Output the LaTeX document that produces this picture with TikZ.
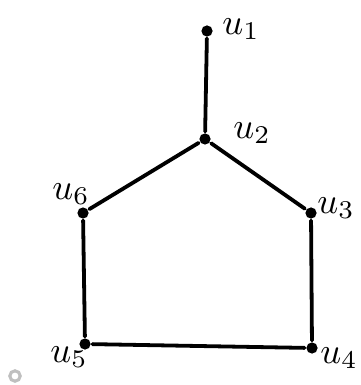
\documentclass[tikz,border=0pt]{standalone}
\usetikzlibrary{positioning}
\tikzset{
  every picture/.style={line width=2.7pt},
  vertex/.style={circle, fill=black, inner sep=0pt, minimum size=2.8mm},
  lbl/.style={scale=2.6, inner sep=0pt},
  edge/.style={draw=black, line cap=round},
}

\begin{document}
\begin{tikzpicture}[x=0.025cm, y=-0.025cm]
  \useasboundingbox (0,0) rectangle (360,385);
  % vertices
  \node[vertex] (u1) at (207,31) {};
  \node[vertex] (u2) at (205,139) {};
  \node[vertex] (u3) at (311,213) {};
  \node[vertex] (u4) at (312,348) {};
  \node[vertex] (u5) at (85,344) {};
  \node[vertex] (u6) at (83,213) {};
  % labels
  \node[lbl] (l1) at (241,29) {$u_1$};
  \node[lbl] (l2) at (252,133) {$u_2$};
  \node[lbl] (l3) at (336,208) {$u_3$};
  \node[lbl] (l4) at (339,358) {$u_4$};
  \node[lbl] (l5) at (69,357) {$u_5$};
  \node[lbl] (l6) at (71,194) {$u_6$};
  % edges
  \draw[edge] (u1) -- (u2);
  \draw[edge] (u2) -- (u3) -- (u4) -- (u5) -- (u6) -- (u2);
  % small grey ring
  \node[circle, draw=gray!50, line width=2.2pt, inner sep=0pt, minimum size=2.6mm] (ring) at (15,376) {};
\end{tikzpicture}
\end{document}
